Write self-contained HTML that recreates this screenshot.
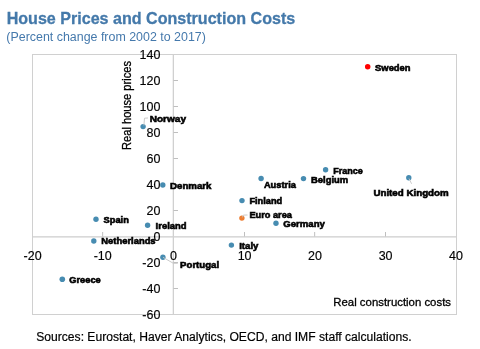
<!DOCTYPE html>
<html><head><meta charset="utf-8">
<style>
html,body{margin:0;padding:0;background:#fff;width:480px;height:349px;overflow:hidden}
svg{display:block;will-change:transform}
text{font-family:"Liberation Sans",sans-serif}
.t{fill:#4479aa;font-weight:bold;font-size:16.3px;stroke:#4479aa;stroke-width:0.3px}
.st{fill:#4579ac;font-size:12px}
.ax{fill:#000;font-size:12.5px;stroke:#000;stroke-width:0.15px}
.lb{fill:#000;font-weight:bold;font-size:9.5px;stroke:#000;stroke-width:0.6px}
.ft{fill:#000;font-size:12px;stroke:#000;stroke-width:0.2px}
</style></head>
<body>
<svg width="480" height="349" viewBox="0 0 480 349">
<text class="t" x="6.7" y="23.7" textLength="288.5" lengthAdjust="spacingAndGlyphs">House Prices and Construction Costs</text>
<text class="st" x="6.3" y="41.4" textLength="199.6" lengthAdjust="spacingAndGlyphs">(Percent change from 2002 to 2017)</text>
<!-- plot border -->
<rect x="32.5" y="54.5" width="424" height="260" fill="none" stroke="#d0d0d0" stroke-width="1"/>
<!-- axes -->
<line x1="32.5" y1="236.85" x2="456.5" y2="236.85" stroke="#cdcdcd" stroke-width="1.3"/>
<line x1="173.35" y1="54.5" x2="173.35" y2="314.5" stroke="#d0d0d0" stroke-width="1.3"/>
<g stroke="#bfbfbf" stroke-width="1">
<!-- y ticks -->
<line x1="173.5" y1="80.5" x2="178" y2="80.5"/>
<line x1="173.5" y1="106.5" x2="178" y2="106.5"/>
<line x1="173.5" y1="132.5" x2="178" y2="132.5"/>
<line x1="173.5" y1="158.5" x2="178" y2="158.5"/>
<line x1="173.5" y1="184.5" x2="178" y2="184.5"/>
<line x1="173.5" y1="210.5" x2="178" y2="210.5"/>
<line x1="173.5" y1="262.5" x2="178" y2="262.5"/>
<line x1="173.5" y1="288.5" x2="178" y2="288.5"/>
<!-- x ticks -->
<line x1="102.67" y1="232" x2="102.67" y2="236.5"/>
<line x1="244.5" y1="232" x2="244.5" y2="236.5"/>
<line x1="314.67" y1="232" x2="314.67" y2="236.5"/>
<line x1="385.5" y1="232" x2="385.5" y2="236.5"/>
</g>
<!-- y labels -->
<g class="ax" text-anchor="end">
<text x="160.4" y="58.9">140</text>
<text x="160.4" y="84.9">120</text>
<text x="160.4" y="110.9">100</text>
<text x="160.4" y="136.9">80</text>
<text x="160.4" y="162.9">60</text>
<text x="160.4" y="188.9">40</text>
<text x="160.4" y="214.9">20</text>
<text x="160.4" y="240.9">0</text>
<text x="160.4" y="266.9">-20</text>
<text x="160.4" y="292.9">-40</text>
<text x="160.4" y="318.9">-60</text>
</g>
<!-- x labels -->
<g class="ax" text-anchor="middle">
<text x="32.6" y="259.8">-20</text>
<text x="102.7" y="259.8">-10</text>
<text x="173.6" y="259.8">0</text>
<text x="244.6" y="259.8">10</text>
<text x="315" y="259.8">20</text>
<text x="385.6" y="259.8">30</text>
<text x="456" y="259.8">40</text>
</g>
<text class="ax" transform="translate(130.6,150) rotate(-90)" x="0" y="0" textLength="89" lengthAdjust="spacingAndGlyphs" style="font-size:12px;stroke-width:0.3px">Real house prices</text>
<text class="ax" x="333.3" y="306" textLength="117.7" lengthAdjust="spacingAndGlyphs" style="font-size:11.5px;stroke-width:0.3px">Real construction costs</text>
<!-- dots -->
<g fill="#478cb1">
<circle cx="143.1" cy="126.6" r="2.7"/>
<circle cx="325.6" cy="169.8" r="2.7"/>
<circle cx="408.8" cy="177.7" r="2.7"/>
<circle cx="261.1" cy="178.5" r="2.7"/>
<circle cx="303.5" cy="178.6" r="2.7"/>
<circle cx="162.8" cy="185" r="2.7"/>
<circle cx="242" cy="200.6" r="2.7"/>
<circle cx="276" cy="223.3" r="2.7"/>
<circle cx="96" cy="219.2" r="2.7"/>
<circle cx="147.6" cy="225.2" r="2.7"/>
<circle cx="93.8" cy="241" r="2.7"/>
<circle cx="231.4" cy="245.1" r="2.7"/>
<circle cx="162.9" cy="257.2" r="2.7"/>
<circle cx="62.3" cy="279.2" r="2.8"/>
</g>
<circle cx="241.9" cy="218.1" r="2.7" fill="#ed7d31"/>
<circle cx="367.7" cy="66.7" r="2.75" fill="#ff0000"/>
<!-- leader lines -->
<g stroke="#c4c4c4" stroke-width="0.9" fill="none">
<polyline points="143.9,125.5 144.5,118.2 148,118"/>
<polyline points="409,178.5 411.6,183.8"/>
<polyline points="242.4,217.4 243.4,215.1 247.5,215"/>
<polyline points="163,257.3 173.3,263.3 177.8,263.3"/>
</g>
<!-- data labels -->
<g class="lb">
<text x="375.1" y="70.8" textLength="35.4" lengthAdjust="spacingAndGlyphs">Sweden</text>
<text x="149.7" y="122.2" textLength="36.3" lengthAdjust="spacingAndGlyphs">Norway</text>
<text x="333.2" y="173.9" textLength="29.6" lengthAdjust="spacingAndGlyphs">France</text>
<text x="311" y="182.6" textLength="37.2" lengthAdjust="spacingAndGlyphs">Belgium</text>
<text x="263.9" y="187.7" textLength="32" lengthAdjust="spacingAndGlyphs">Austria</text>
<text x="373.4" y="195.9" textLength="75.3" lengthAdjust="spacingAndGlyphs">United Kingdom</text>
<text x="170.1" y="189" textLength="41.4" lengthAdjust="spacingAndGlyphs">Denmark</text>
<text x="249.4" y="204.3" textLength="32.8" lengthAdjust="spacingAndGlyphs">Finland</text>
<text x="249.4" y="218.4" textLength="42.6" lengthAdjust="spacingAndGlyphs">Euro area</text>
<text x="283.3" y="227.2" textLength="41.6" lengthAdjust="spacingAndGlyphs">Germany</text>
<text x="103.6" y="222.9" textLength="25.2" lengthAdjust="spacingAndGlyphs">Spain</text>
<text x="155.6" y="229.1" textLength="31" lengthAdjust="spacingAndGlyphs">Ireland</text>
<text x="101.3" y="244.4" textLength="54.3" lengthAdjust="spacingAndGlyphs">Netherlands</text>
<text x="239.2" y="249" textLength="19.2" lengthAdjust="spacingAndGlyphs">Italy</text>
<text x="180.1" y="267.8" textLength="39" lengthAdjust="spacingAndGlyphs">Portugal</text>
<text x="69.3" y="282.9" textLength="31.4" lengthAdjust="spacingAndGlyphs">Greece</text>
</g>
<text class="ft" x="36.2" y="340.7" textLength="375.5" lengthAdjust="spacingAndGlyphs">Sources: Eurostat, Haver Analytics, OECD, and IMF staff calculations.</text>
</svg>
</body></html>
